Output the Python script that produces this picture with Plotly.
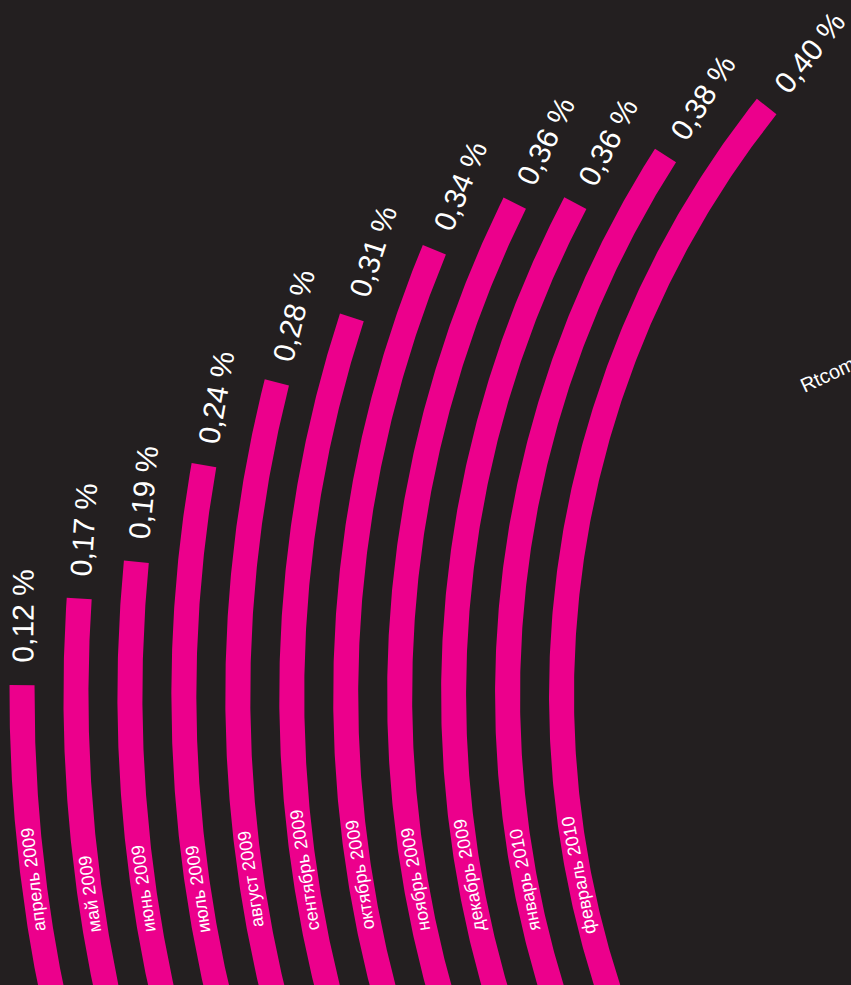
import numpy as np
import plotly.graph_objects as go

# ---- data ----
months = ["апрель 2009", "май 2009", "июнь 2009", "июль 2009", "август 2009",
          "сентябрь 2009", "октябрь 2009", "ноябрь 2009", "декабрь 2009",
          "январь 2010", "февраль 2010"]
values = [0.12, 0.17, 0.19, 0.24, 0.28, 0.31, 0.34, 0.36, 0.36, 0.38, 0.40]
value_labels = ["0,12 %", "0,17 %", "0,19 %", "0,24 %", "0,28 %", "0,31 %",
                "0,34 %", "0,36 %", "0,36 %", "0,38 %", "0,40 %"]
source_text = "Rtcomm.ru"

# ---- layout / style ----
W, H = 851, 985
BG = "#231f20"
PINK = "#ec008c"
FONT = "Liberation Sans, Arial, Helvetica, sans-serif"
CX, CY = 1508.0, 695.0      # common centre of the arcs (off canvas)
R_OUTER = 1486.0            # radius of the first ring
STEP = 53.95                # ring spacing
BAR_W = 25.0                # ring thickness
LABEL_BOTTOM = 933.0        # where month labels start
VAL_GAP = 69.0              # distance of value label centre beyond bar end


def top_y(v):
    """height (in canvas units) that a bar of value v reaches"""
    return 863.1 - 1309.0 * v - 1456.0 * v * v


def pt(theta, rho):
    return CX - rho * np.cos(theta), CY - rho * np.sin(theta)


fig = go.Figure()
annotations = []

for i, (m, v, lab) in enumerate(zip(months, values, value_labels)):
    r = R_OUTER - i * STEP
    th_end = np.arcsin((CY - top_y(v)) / r)
    th_start = -np.arcsin((1015.0 - CY) / (r - BAR_W / 2))
    th = np.linspace(th_start, th_end, 300)
    xo, yo = pt(th, r + BAR_W / 2)
    xi, yi = pt(th[::-1], r - BAR_W / 2)
    xs = np.concatenate([xo, xi, xo[:1]])
    ys = np.concatenate([yo, yi, yo[:1]])
    fig.add_trace(go.Scatter(x=xs, y=ys, mode="lines", fill="toself",
                             fillcolor=PINK, line=dict(width=0, color=PINK),
                             hoverinfo="skip", showlegend=False))

    # value label, continuing the bar along its tangent
    ex, ey = pt(th_end, r)
    cxl = ex + VAL_GAP * np.sin(th_end)
    cyl = ey - VAL_GAP * np.cos(th_end)
    annotations.append(dict(x=cxl, y=cyl, xref="x", yref="y", text=lab,
                            showarrow=False, xanchor="center", yanchor="middle",
                            textangle=float(np.degrees(th_end) - 90),
                            font=dict(family=FONT, size=30, color="white")))

    # month label inside the bar
    th_s = -np.arcsin((LABEL_BOTTOM - CY) / r)
    est_len = 9.9 * len(m)
    th_c = th_s + (est_len / 2) / r
    mx, my = pt(th_c, r)
    annotations.append(dict(x=mx, y=my, xref="x", yref="y", text=m,
                            showarrow=False, xanchor="center", yanchor="middle",
                            textangle=float(np.degrees(th_c) - 90),
                            font=dict(family=FONT, size=18, color="white")))

# source caption, partly cut by the right edge
ang = np.radians(25)
sx, sy = 805.0, 393.0
src_len = 97.0
scx = sx + src_len / 2 * np.cos(ang) - 7 * np.sin(ang)
scy = sy - src_len / 2 * np.sin(ang) - 7 * np.cos(ang)
annotations.append(dict(x=scx, y=scy, xref="x", yref="y", text=source_text,
                        showarrow=False, xanchor="center", yanchor="middle",
                        textangle=-25,
                        font=dict(family=FONT, size=20, color="white")))

fig.update_layout(
    width=W, height=H,
    margin=dict(l=0, r=0, t=0, b=0),
    paper_bgcolor=BG, plot_bgcolor=BG,
    xaxis=dict(range=[0, W], visible=False, fixedrange=True),
    yaxis=dict(range=[H, 0], visible=False, fixedrange=True),
    annotations=annotations,
    showlegend=False,
)

fig.write_html(
    "out.html",
    config={"displayModeBar": False},
    post_script="document.body.style.margin='0';"
                "document.body.style.background='#231f20';",
)
